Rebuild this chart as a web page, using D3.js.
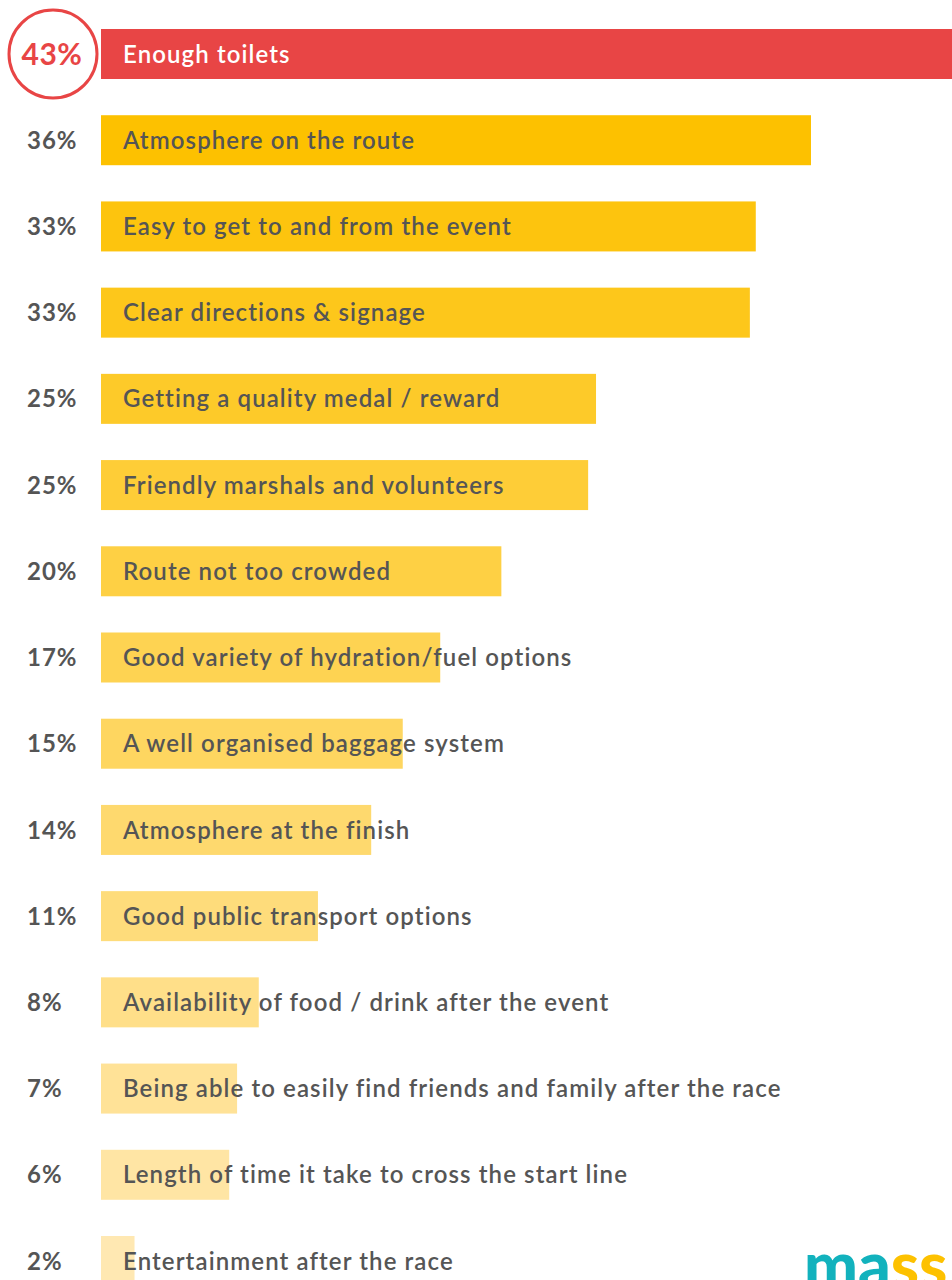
<!DOCTYPE html>
<html>
<head>
<meta charset="utf-8">
<script src="https://cdn.jsdelivr.net/npm/d3@7"></script>
<style>
  body { margin: 0; background: #fff; }
  svg { display: block; font-family: Lato, "Noto Sans", sans-serif; }
</style>
</head>
<body>
<script>
// values
let labels = [
  "Enough toilets",
  "Atmosphere on the route",
  "Easy to get to and from the event",
  "Clear directions & signage",
  "Getting a quality medal / reward",
  "Friendly marshals and volunteers",
  "Route not too crowded",
  "Good variety of hydration/fuel options",
  "A well organised baggage system",
  "Atmosphere at the finish",
  "Good public transport options",
  "Availability of food / drink after the event",
  "Being able to easily find friends and family after the race",
  "Length of time it take to cross the start line",
  "Entertainment after the race"
];
let values = [43.2, 36, 33.2, 32.9, 25.1, 24.7, 20.3, 17.2, 15.3, 13.7, 11, 8, 6.9, 6.5, 1.7];
let pctLabels = ["43%", "36%", "33%", "33%", "25%", "25%", "20%", "17%", "15%", "14%", "11%", "8%", "7%", "6%", "2%"];

let data = labels.map((d, i) => ({label: d, value: values[i], pct: pctLabels[i], i: i}));

let width = 952, height = 1280;
let barH = 50;

let svg = d3.select("body")
  .append("svg")
  .attr("width", width)
  .attr("height", height);

let xScale = d3.scaleLinear()
  .domain([0, 36])
  .range([101, 811]);

let yScale = d3.scaleLinear()
  .domain([0, 14])
  .range([29, 1236]);

// yellow gets lighter down the list
let colour = d3.scaleLinear()
  .domain([1, 14])
  .range(["#fdc100", "#ffe8b2"])
  .interpolate(d3.interpolateRgb);

let rows = svg.selectAll("g.row")
  .data(data)
  .enter()
  .append("g")
  .attr("class", "row")
  .attr("transform", d => `translate(0, ${yScale(d.i)})`);

rows.append("rect")
  .attr("x", xScale(0))
  .attr("y", 0)
  .attr("width", d => xScale(d.value) - xScale(0))
  .attr("height", barH)
  .attr("fill", d => d.i == 0 ? "#e84545" : colour(d.i));

rows.append("text")
  .attr("x", 123)
  .attr("y", barH / 2)
  .attr("dy", "0.36em")
  .attr("font-size", 24)
  .attr("font-weight", 600)
  .attr("letter-spacing", 1.1)
  .attr("fill", d => d.i == 0 ? "#fff" : "#555")
  .text(d => d.label);

rows.filter(d => d.i > 0).append("text")
  .attr("x", 27)
  .attr("y", barH / 2)
  .attr("dy", "0.36em")
  .attr("font-size", 24)
  .attr("font-weight", 700)
  .attr("letter-spacing", 1)
  .attr("fill", "#555")
  .text(d => d.pct);

// circle badge for the top item
let topRow = rows.filter(d => d.i == 0);
topRow.append("circle")
  .attr("cx", 53)
  .attr("cy", barH / 2)
  .attr("r", 44)
  .attr("fill", "#fff")
  .attr("stroke", "#e84545")
  .attr("stroke-width", 3);

topRow.append("text")
  .attr("x", 52)
  .attr("y", barH / 2)
  .attr("dy", "0.36em")
  .attr("text-anchor", "middle")
  .attr("font-size", 30)
  .attr("font-weight", 700)
  .attr("letter-spacing", 0.5)
  .attr("fill", "#e84545")
  .text(d => d.pct);

// logo, cut off at the bottom edge like the original
let logo = svg.append("text")
  .attr("x", 804)
  .attr("y", 1288)
  .attr("font-size", 64)
  .attr("font-weight", 900);
logo.append("tspan").attr("fill", "#12b2bd").text("ma");
logo.append("tspan").attr("fill", "#fdc100").text("ss");
</script>
</body>
</html>
